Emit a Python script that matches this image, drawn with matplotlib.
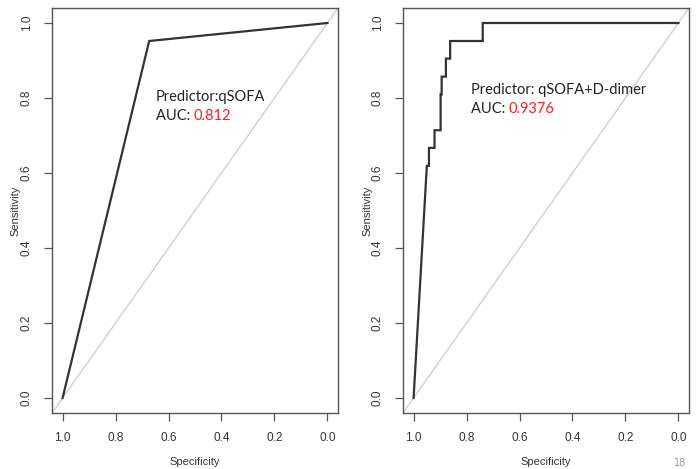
import numpy as np
import matplotlib
matplotlib.use("Agg")
import matplotlib.pyplot as plt

# ROC points (specificity, sensitivity)
spec_qsofa = [1.0, 0.673, 0.0]
sens_qsofa = [0.0, 0.952, 1.0]

spec_combo = [1.0, 0.95, 0.942, 0.942, 0.921, 0.921, 0.898, 0.898, 0.894, 0.894,
              0.878, 0.878, 0.862, 0.862, 0.739, 0.739, 0.0]
sens_combo = [0.0, 0.619, 0.619, 0.667, 0.667, 0.714, 0.714, 0.810, 0.810, 0.857,
              0.857, 0.905, 0.905, 0.952, 0.952, 1.0, 1.0]

predictors = ["Predictor:qSOFA", "Predictor: qSOFA+D-dimer"]
aucs = ["0.812", "0.9376"]
ticks = [1.0, 0.8, 0.6, 0.4, 0.2, 0.0]

W, H = 697, 469
fig = plt.figure(figsize=(W / 100, H / 100), dpi=100)


def px(x0, y0, x1, y1):
    return [x0 / W, 1 - y1 / H, (x1 - x0) / W, (y1 - y0) / H]


def roc_panel(rect, spec, sens, pred, auc, txt_xy, ylab_x):
    ax = fig.add_axes(rect)
    ax.plot([1.04, -0.04], [-0.04, 1.04], color="#d0d0d0", lw=1.0)
    ax.plot(spec, sens, color="#333333", lw=1.6, solid_joinstyle="miter")
    ax.set_xlim(1.04, -0.04)
    ax.set_ylim(-0.04, 1.04)
    ax.set_xticks(ticks)
    ax.set_yticks(ticks)
    ax.set_xticklabels(["%.1f" % t for t in ticks], fontsize=8.5, family="Liberation Sans", color="#333333")
    ax.set_yticklabels(["%.1f" % t for t in ticks], fontsize=8.5, family="Liberation Sans",
                       rotation=90, va="center", color="#333333")
    ax.tick_params(direction="out", length=6, width=0.9, color="#555555", pad=8)
    for s in ax.spines.values():
        s.set_color("#555555")
        s.set_linewidth(1.0)
    ax.set_xlabel("Specificity", fontsize=8, family="Liberation Sans", color="#333333", labelpad=9)
    ax.set_ylabel("Sensitivity", fontsize=8, family="Liberation Sans", color="#333333")
    ax.yaxis.set_label_coords(ylab_x, 0.5)
    tx, ty = txt_xy
    fig.text(tx / W, 1 - ty / H, pred, fontsize=10.5, family="Lato", color="#222222", va="center")
    t = fig.text(tx / W, 1 - (ty + 19) / H, "AUC: ", fontsize=10.5, family="Lato", color="#222222", va="center")
    fig.canvas.draw()
    bb = t.get_window_extent()
    fig.text(bb.x1 / W, 1 - (ty + 19) / H, auc, fontsize=10.5, family="Lato", color="#ff2020", va="center")
    return ax


roc_panel(px(52, 8, 338, 413), spec_qsofa, sens_qsofa, predictors[0], aucs[0], (156, 97), -0.11)
roc_panel(px(403, 8, 689, 413), spec_combo, sens_combo, predictors[1], aucs[1], (471, 90), -0.105)

fig.text(674 / W, 6 / H, "18", fontsize=7, color="#999999", va="center")

fig.savefig("out.png", dpi=100)
